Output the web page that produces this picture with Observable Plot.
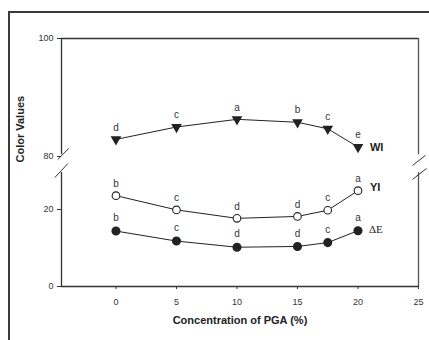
<!DOCTYPE html>
<html><head><meta charset="utf-8">
<script src="https://cdn.jsdelivr.net/npm/d3@7"></script>
<script src="https://cdn.jsdelivr.net/npm/@observablehq/plot@0.6"></script>
<style>
html,body{margin:0;padding:0;background:#fff;width:429px;height:340px;overflow:hidden;}
#frame{position:absolute;left:8px;top:11px;width:600px;height:600px;border-left:2px solid #3a3a3a;border-top:2px solid #3a3a3a;}
#chart{position:absolute;left:0;top:0;}
</style></head><body><div id="frame"></div><div id="chart"></div>
<script>
const pga = [0, 5, 10, 15, 17.5, 20];
const wi = [82.9, 85.0, 86.3, 85.8, 84.7, 81.6];
const yi = [23.6, 19.9, 17.7, 18.2, 19.8, 24.9];
const dE = [14.4, 11.8, 10.2, 10.4, 11.4, 14.5];
const wiLetters = ["d", "c", "a", "b", "c", "e"];
const yiLetters = ["b", "c", "d", "d", "c", "a"];
const dELetters = ["b", "c", "d", "d", "c", "a"];
const seriesNames = ["WI", "YI", "ΔE"];
const xTicks = [0, 5, 10, 15, 20, 25];
const yTicks = [0, 20, 80, 100];
const xDomain = [-4.5, 25];
// broken axis: lower part 0..30, upper part 80..100
const yDomain = [0, 30, 80, 100];
const axisSegments = [{y1: 0, y2: 29.6}, {y1: 80.3, y2: 100}];
const breakMarks = [
  {x1: -4.8, y1: 69.7, x2: -3.89, y2: 81.4},
  {x1: -5.05, y1: 28.3, x2: -3.97, y2: 55.9},
  {x1: 24.5, y1: 49, x2: 25.58, y2: 80.2},
  {x1: 24.5, y1: 27.8, x2: 25.66, y2: 38.6}
];

const W = 429, H = 340;
const mL = 61, mR = 11, mT = 38, mB = 54;

const rows = (vals, letters, s) => pga.map((x, i) => ({x, y: vals[i], l: letters[i], s}));
const wiRows = rows(wi, wiLetters, seriesNames[0]);
const yiRows = rows(yi, yiLetters, seriesNames[1]);
const dERows = rows(dE, dELetters, seriesNames[2]);
const last = (r) => [r[r.length - 1]];

const ink = "#222";
const chart = Plot.plot({
  width: W, height: H,
  marginLeft: mL, marginRight: mR, marginTop: mT, marginBottom: mB,
  style: {fontFamily: "'Liberation Sans', Arial, sans-serif", fontSize: "9px", color: "#333", background: "transparent", overflow: "visible"},
  x: {domain: xDomain, ticks: xTicks, tickSize: 3, tickPadding: 9, label: null},
  y: {type: "linear", domain: yDomain, range: [286, 170.5, 156, 38], ticks: yTicks, tickSize: 4, tickPadding: 4, label: null},
  marks: [
    Plot.ruleY([0, 100], {x1: xDomain[0], x2: xDomain[1], stroke: "#333", strokeWidth: 1.3}),
    Plot.ruleX(axisSegments, {x: xDomain[0], y1: "y1", y2: "y2", stroke: "#333", strokeWidth: 1.3}),
    Plot.ruleX(axisSegments, {x: xDomain[1], y1: "y1", y2: "y2", stroke: "#555", strokeWidth: 1.3}),
    Plot.link(breakMarks, {x1: "x1", y1: "y1", x2: "x2", y2: "y2", stroke: "#333", strokeWidth: 1}),
    Plot.line(wiRows, {x: "x", y: "y", stroke: ink, strokeWidth: 1}),
    Plot.line(yiRows, {x: "x", y: "y", stroke: ink, strokeWidth: 1}),
    Plot.line(dERows, {x: "x", y: "y", stroke: ink, strokeWidth: 1}),
    Plot.dot(wiRows, {x: "x", y: "y", symbol: "triangle", rotate: 180, r: 3, fill: ink, stroke: ink}),
    Plot.dot(yiRows, {x: "x", y: "y", r: 3.8, fill: "white", stroke: ink, strokeWidth: 1.1}),
    Plot.dot(dERows, {x: "x", y: "y", r: 3.8, fill: ink, stroke: ink}),
    Plot.text(wiRows, {x: "x", y: "y", text: "l", dy: -12, fill: "#333", fontSize: 10}),
    Plot.text(yiRows, {x: "x", y: "y", text: "l", dy: -12, fill: "#333", fontSize: 10}),
    Plot.text(dERows, {x: "x", y: "y", text: "l", dy: -13, fill: "#333", fontSize: 10}),
    Plot.text(last(wiRows), {x: "x", y: "y", text: "s", dx: 12, dy: 0, textAnchor: "start", fontWeight: "bold", fontSize: 11, fill: ink}),
    Plot.text(last(yiRows), {x: "x", y: "y", text: "s", dx: 12, dy: -3, textAnchor: "start", fontWeight: "bold", fontSize: 11, fill: ink}),
    Plot.text(last(dERows), {x: "x", y: "y", text: "s", dx: 11, dy: -1, textAnchor: "start", fontFamily: "'Liberation Serif', 'Times New Roman', serif", fontSize: 11, fill: ink}),
    Plot.text(["Color Values"], {frameAnchor: "left", dx: -41, rotate: -90, fontWeight: "bold", fontSize: 11, fill: ink}),
    Plot.text(["Concentration of PGA (%)"], {frameAnchor: "bottom", dy: 37, fontWeight: "bold", fontSize: 11, fill: ink})
  ]
});
document.getElementById("chart").appendChild(chart);
</script>
</body></html>
